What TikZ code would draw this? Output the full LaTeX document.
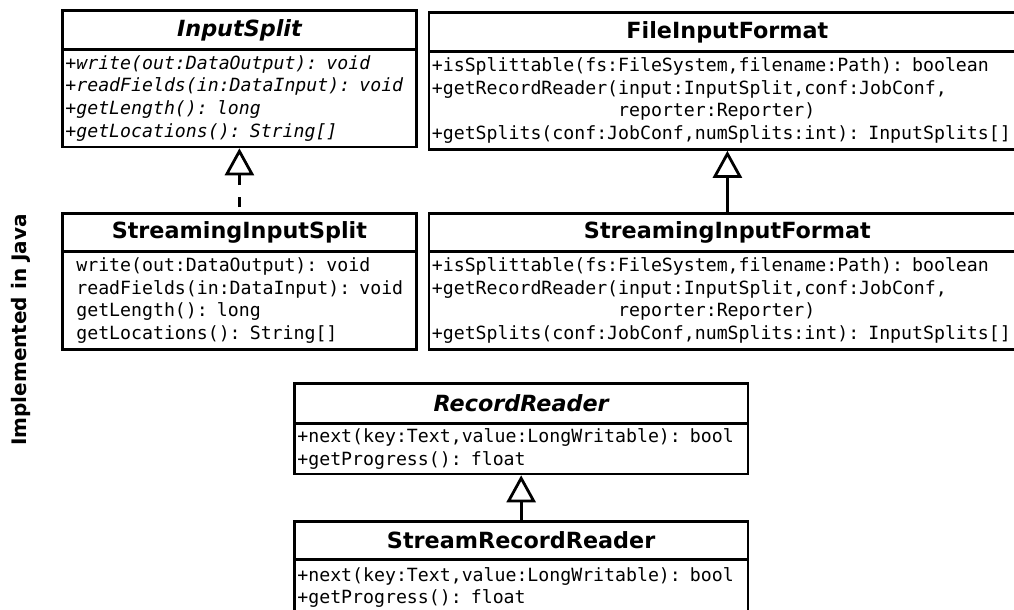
\documentclass[tikz,border=0pt]{standalone}
\usepackage{fontspec}
\setmainfont{DejaVu Sans}
\setmonofont{DejaVu Sans Mono}
\usetikzlibrary{positioning, arrows.meta}

\begin{document}
\begin{tikzpicture}[x=1pt, y=-1pt, line width=2.8pt,
      ttl/.style={draw, inner xsep=0pt, inner ysep=0pt, font=\bfseries\fontsize{22.3}{24}\selectfont},
      bdy/.style={draw, inner xsep=3pt, inner ysep=0pt, align=left, font=\ttfamily\fontsize{18.2}{22.7}\selectfont},
      gen/.style={-{Triangle[open, length=27pt, width=29pt]}},
      real/.style={gen, dash pattern=on 10pt off 12pt, dash phase=17pt}]
    \useasboundingbox (0,0) rectangle (1014,610);
    \node[rotate=90, font=\bfseries\fontsize{20}{24}\selectfont] (impl) at (21,330) {Implemented in Java};
    % left column
    \node[ttl, anchor=north west, minimum width=354pt, minimum height=38.5pt] (isplit) at (61,9.5) {\itshape InputSplit};
    \node[bdy, below=-2.8pt of isplit, text width=348pt, minimum height=97.5pt, font=\ttfamily\itshape\fontsize{18.2}{22.7}\selectfont] (isplitb)
      {+write(out:DataOutput): void\\+readFields(in:DataInput): void\\+getLength(): long\\+getLocations(): String[]};
    \node[ttl, below=63.7pt of isplitb, minimum width=354pt, minimum height=38pt] (sisplit) {StreamingInputSplit};
    \node[bdy, below=-2.8pt of sisplit, text width=348pt, minimum height=98pt] (sisplitb)
      {\hphantom{+}write(out:DataOutput): void\\\hphantom{+}readFields(in:DataInput): void\\\hphantom{+}getLength(): long\\\hphantom{+}getLocations(): String[]};
    % right column
    \node[ttl, anchor=north west, minimum width=597pt, minimum height=39pt] (fif) at (427.5,11) {FileInputFormat};
    \node[bdy, below=-2.8pt of fif, text width=591pt, minimum height=98pt] (fifb)
      {+isSplittable(fs:FileSystem,filename:Path): boolean\\+getRecordReader(input:InputSplit,conf:JobConf,\\\hphantom{+getRecordReader(}reporter:Reporter)\\+getSplits(conf:JobConf,numSplits:int): InputSplits[]};
    \node[ttl, below=61.2pt of fifb, minimum width=597pt, minimum height=38pt] (sif) {StreamingInputFormat};
    \node[bdy, below=-2.8pt of sif, text width=591pt, minimum height=98pt] (sifb)
      {+isSplittable(fs:FileSystem,filename:Path): boolean\\+getRecordReader(input:InputSplit,conf:JobConf,\\\hphantom{+getRecordReader(}reporter:Reporter)\\+getSplits(conf:JobConf,numSplits:int): InputSplits[]};
    % bottom
    \node[ttl, anchor=north west, minimum width=453.5pt, minimum height=40pt] (rr) at (293,382) {\itshape RecordReader};
    \node[bdy, below=-2.8pt of rr, text width=447.5pt, minimum height=50.5pt] (rrb)
      {+next(key:Text,value:LongWritable): bool\\+getProgress(): float};
    \node[ttl, below=44.7pt of rrb, minimum width=453.5pt, minimum height=38pt] (srr) {StreamRecordReader};
    \node[bdy, below=-2.8pt of srr, text width=447.5pt, minimum height=56pt] (srrb)
      {+next(key:Text,value:LongWritable): bool\\+getProgress(): float};
    \draw[real] (sisplit.north) -- (isplitb.south);
    \draw[gen] (sif.north) -- (fifb.south);
    \draw[gen] (srr.north) -- (rrb.south);
  \end{tikzpicture}
\end{document}
